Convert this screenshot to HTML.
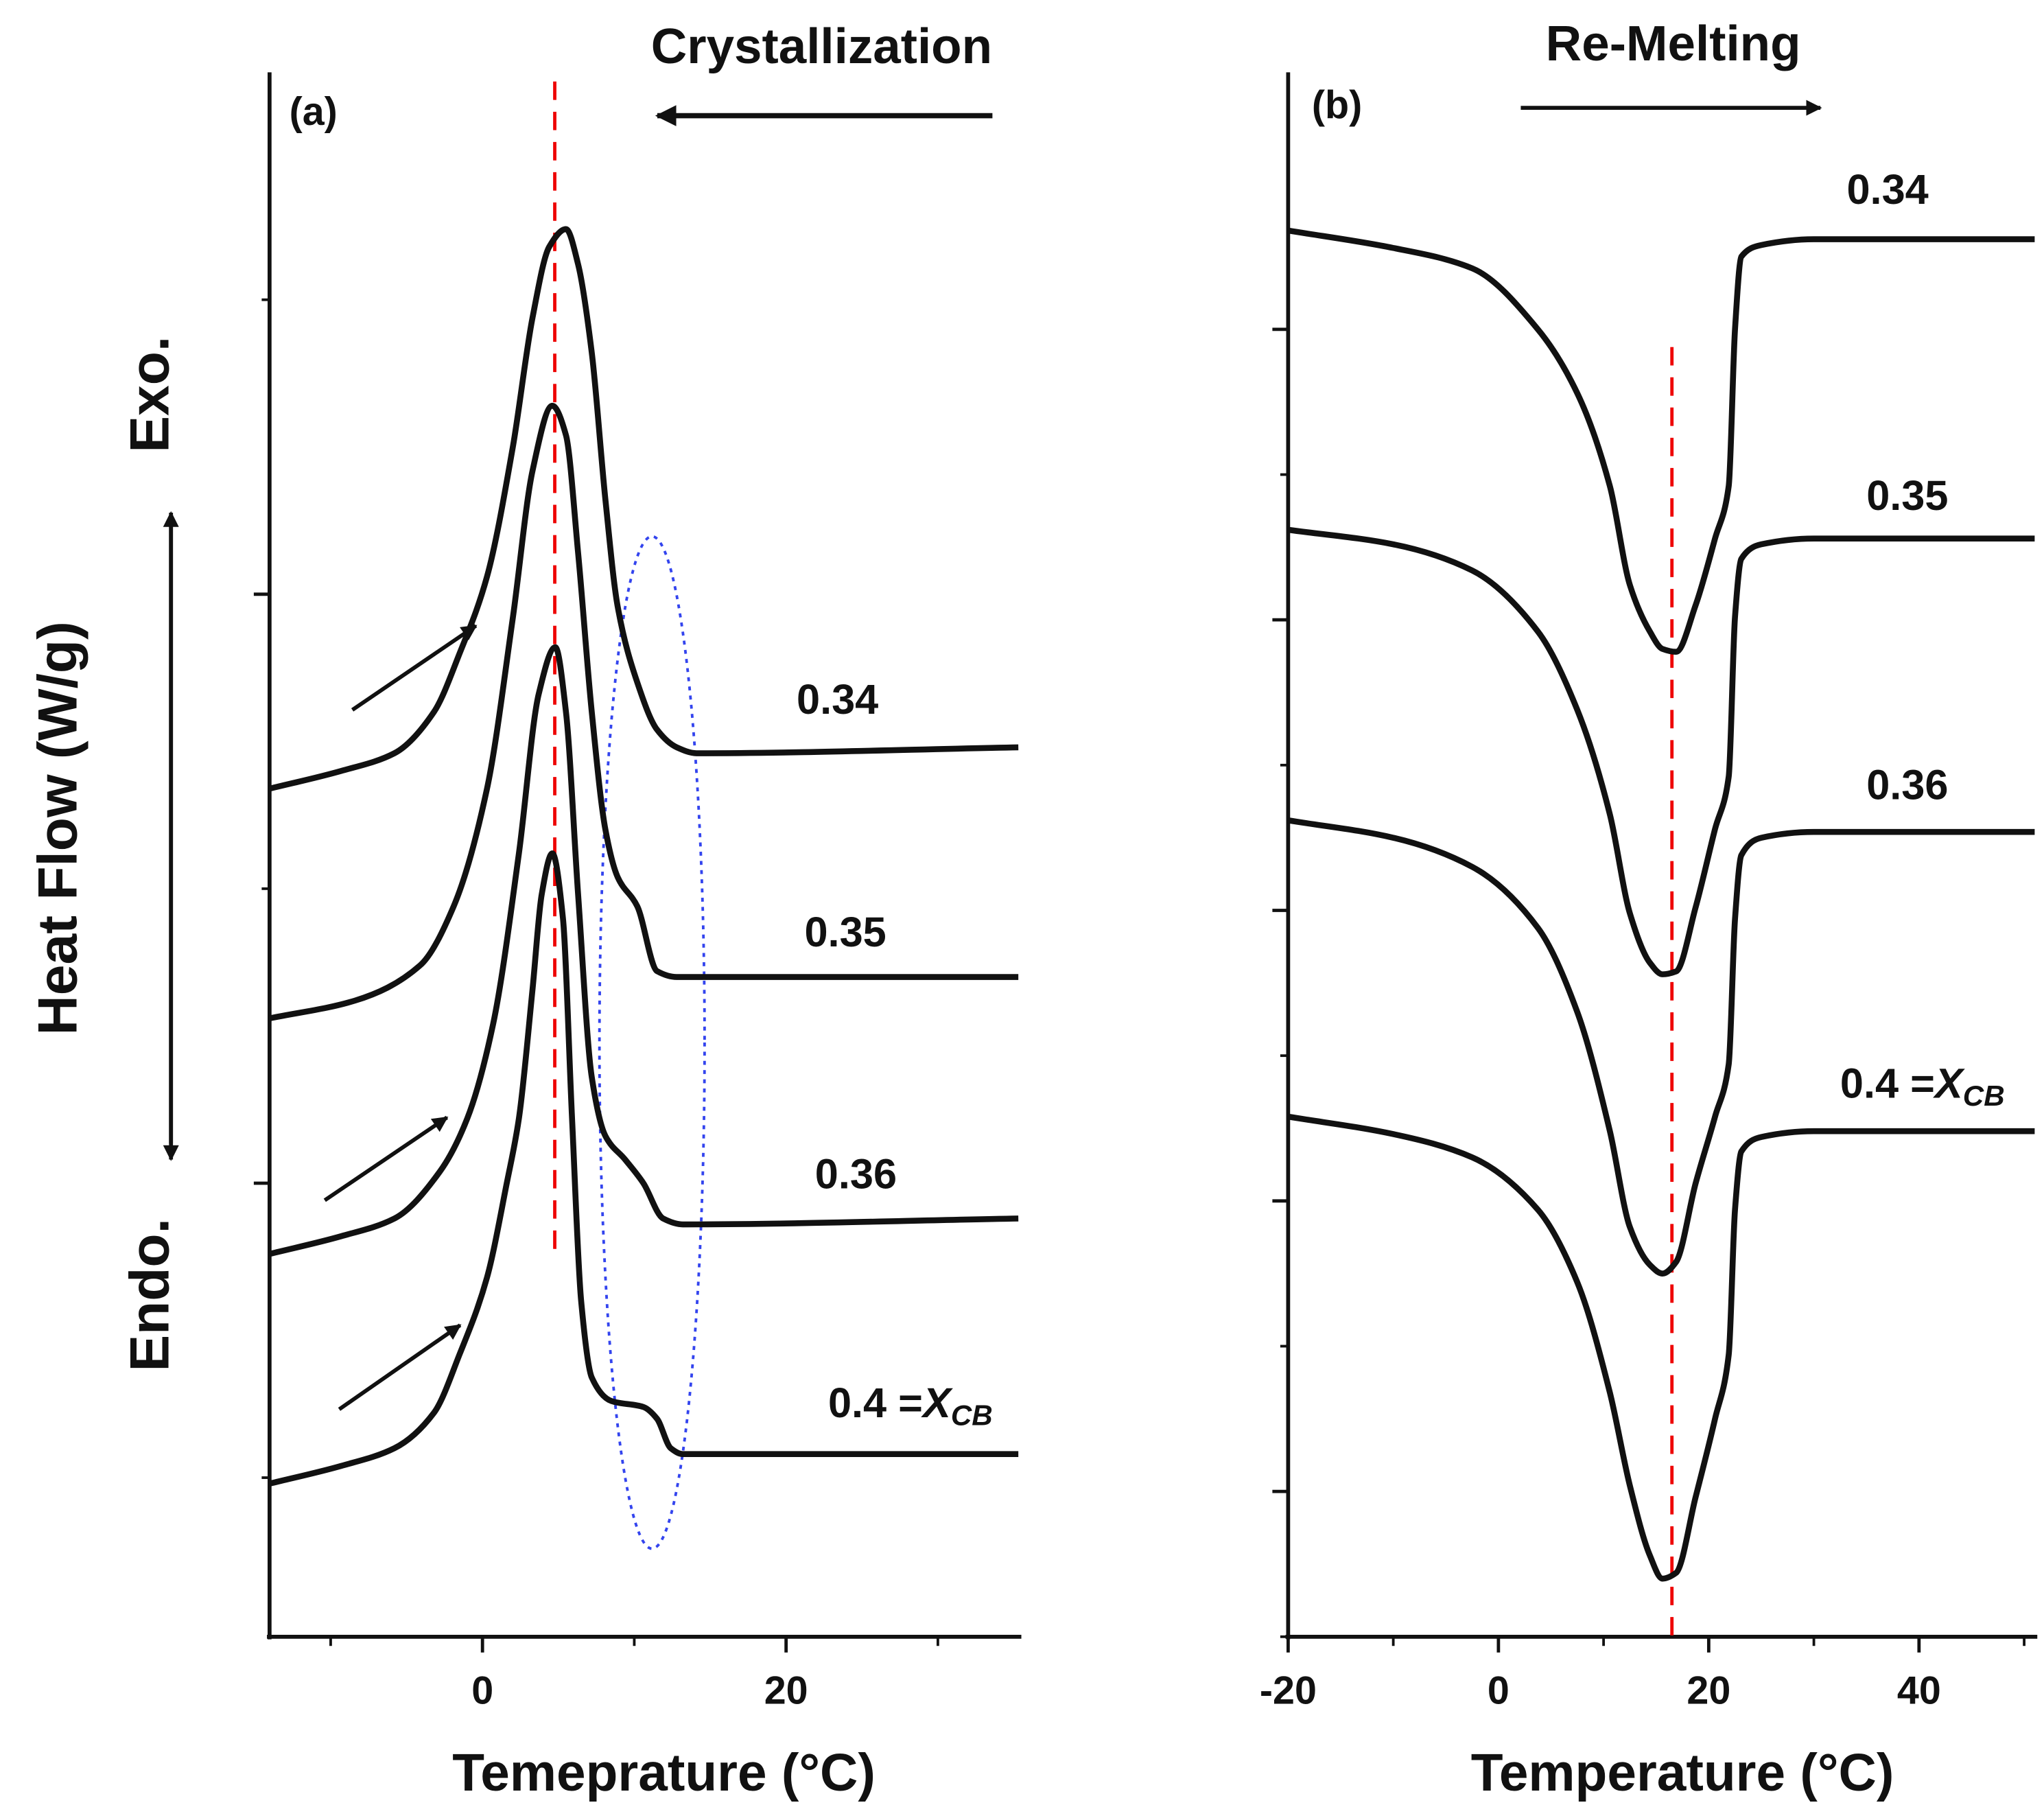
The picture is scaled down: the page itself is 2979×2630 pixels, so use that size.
<!DOCTYPE html>
<html><head><meta charset="utf-8"><style>
html,body{margin:0;padding:0;background:#fff}
svg{display:block}
text{font-family:"Liberation Sans",sans-serif;font-weight:bold;fill:#111}
</style></head><body>
<svg id="fig" width="2979" height="2630" viewBox="0 0 1555 1373" xmlns="http://www.w3.org/2000/svg">
<defs>
<marker id="ah" viewBox="0 0 10 10" refX="9" refY="5" markerWidth="5" markerHeight="4" orient="auto" markerUnits="strokeWidth"><path d="M0,0 L10,5 L0,10 z" fill="#111"/></marker>
</defs>
<g id="pa"></g>
<g id="pb"></g>
<text x="625" y="48" font-size="38" text-anchor="middle">Crystallization</text>
<line x1="755" y1="88" x2="500" y2="88" stroke="#111" stroke-width="4" marker-end="url(#ah)"/>
<text x="1273" y="46" font-size="38" text-anchor="middle">Re-Melting</text>
<line x1="1157" y1="82" x2="1385" y2="82" stroke="#111" stroke-width="3" marker-end="url(#ah)"/>
<text x="220" y="95" font-size="30">(a)</text>
<text x="998" y="90" font-size="30">(b)</text>
<text transform="translate(58,630) rotate(-90)" font-size="42" text-anchor="middle">Heat Flow (W/g)</text>
<text transform="translate(128,300) rotate(-90)" font-size="42" text-anchor="middle">Exo.</text>
<text transform="translate(128,985) rotate(-90)" font-size="42" text-anchor="middle">Endo.</text>
<line x1="130" y1="870" x2="130" y2="390" stroke="#111" stroke-width="3" marker-end="url(#ah)"/>
<line x1="130" y1="400" x2="130" y2="882" stroke="#111" stroke-width="3" marker-end="url(#ah)"/>
<text x="505" y="1362" font-size="40" text-anchor="middle">Temeprature (°C)</text>
<text x="1280" y="1362" font-size="40" text-anchor="middle">Temperature (°C)</text>
</svg>
<script>
// Panel (a) data: temperature (°C) and heat flow (arb. W/g)
const aT34=[-14,-9.3,-5.8,-3.2,-1.5,0.3,2.0,3.3,4.4,5.5,6.3,7.2,8.1,8.9,10.2,11.5,12.8,14.1,35.3];
const aH34=[1.67,1.70,1.73,1.80,1.90,2.03,2.25,2.47,2.59,2.62,2.56,2.41,2.16,1.98,1.85,1.77,1.74,1.73,1.74];
const aT35=[-14,-8.4,-4.1,-1.9,0.3,2.0,3.3,4.6,5.5,6.3,7.2,8.1,8.9,10.2,11.5,12.8,35.3];
const aH35=[1.28,1.31,1.37,1.47,1.67,1.96,2.21,2.32,2.27,2.07,1.80,1.60,1.52,1.47,1.36,1.35,1.35];
const aT36=[-14,-9.3,-5.8,-2.8,-1.0,0.7,2.4,3.7,4.8,5.5,6.3,7.2,8.1,9.4,10.6,11.9,13.2,35.3];
const aH36=[0.88,0.91,0.94,1.02,1.11,1.27,1.56,1.83,1.91,1.80,1.49,1.18,1.08,1.04,1.00,0.94,0.93,0.94];
const aT40=[-14,-9.3,-5.8,-3.2,-1.5,0.3,1.6,2.4,3.3,3.9,4.6,5.3,5.9,6.5,7.2,8.5,10.6,11.5,12.4,13.2,35.3];
const aH40=[0.49,0.52,0.55,0.61,0.71,0.84,1.00,1.11,1.33,1.49,1.56,1.45,1.11,0.80,0.67,0.63,0.62,0.60,0.55,0.54,0.54];
const aXTicks=[0,20];
const aXTickLabels=["0","20"];
const aXMinor=[-10,10,30];
const aYMajor=[1,2];
const aYMinor=[0.5,1.5,2.5];
// Panel (b) data
const bT=[-20,-10,-2.5,3.75,7.5,10.6,12.5,14.4,15.6,16.9,18.75,20.6,21.9,22.5,23.1,25,30,51];
const bH34=[4.84,4.78,4.71,4.50,4.28,3.96,3.62,3.46,3.40,3.39,3.55,3.78,3.96,4.50,4.75,4.79,4.81,4.81];
const bH35=[3.81,3.76,3.67,3.46,3.19,2.83,2.49,2.32,2.28,2.29,2.51,2.78,2.96,3.51,3.71,3.76,3.78,3.78];
const bH36=[2.81,2.75,2.65,2.44,2.15,1.74,1.41,1.28,1.25,1.29,1.56,1.79,1.97,2.47,2.69,2.75,2.77,2.77];
const bH40=[1.79,1.73,1.65,1.47,1.22,0.84,0.52,0.28,0.20,0.22,0.48,0.75,0.97,1.47,1.67,1.72,1.74,1.74];
const bXTicks=[-20,0,20,40];
const bXTickLabels=["-20","0","20","40"];
const bXMinor=[-10,10,30,50];
const bYMajor=[0.5,1.5,2.5,3.5,4.5];
const bYMinor=[0,1,2,3,4];

const NS="http://www.w3.org/2000/svg";
function mk(tag,attrs,parent){const e=document.createElementNS(NS,tag);for(const k in attrs)e.setAttribute(k,attrs[k]);parent.appendChild(e);return e;}
const ax=t=>367+t*11.55, ay=v=>1348-v*448;
const bx=t=>1140+t*8.0, by=v=>1245-v*221;
// monotone cubic (Fritsch-Carlson) path
function smooth(pts){
  const n=pts.length, x=pts.map(p=>p[0]), y=pts.map(p=>p[1]);
  const d=[],m=[];
  for(let i=0;i<n-1;i++)d.push((y[i+1]-y[i])/(x[i+1]-x[i]));
  m[0]=d[0];m[n-1]=d[n-2];
  for(let i=1;i<n-1;i++){
    if(d[i-1]*d[i]<=0)m[i]=0;
    else{const w1=2*(x[i+1]-x[i])+(x[i]-x[i-1]),w2=(x[i+1]-x[i])+2*(x[i]-x[i-1]);
      m[i]=(w1+w2)/(w1/d[i-1]+w2/d[i]);}
  }
  let s=`M${x[0]},${y[0]}`;
  for(let i=0;i<n-1;i++){
    const h=(x[i+1]-x[i])/3;
    s+=` C${x[i]+h},${y[i]+m[i]*h} ${x[i+1]-h},${y[i+1]-m[i+1]*h} ${x[i+1]},${y[i+1]}`;
  }
  return s;
}
const pa=document.getElementById('pa'), pb=document.getElementById('pb');

// Panel a axes
let e=mk('line',{x1:205,y1:55,x2:205,y2:1247,stroke:'#111','stroke-width':3},pa);


e=mk('line',{x1:203,y1:1245,x2:777,y2:1245,stroke:'#111','stroke-width':3},pa);


aXTicks.forEach((t,i)=>{
  const l=mk('line',{x1:ax(t),y1:1245,x2:ax(t),y2:1257,stroke:'#111','stroke-width':2.5},pa);
  
  
  const tx=mk('text',{x:ax(t),y:1296,'font-size':30,'text-anchor':'middle'},pa);tx.textContent=aXTickLabels[i];
  
  
});
aXMinor.forEach(t=>{const l=mk('line',{x1:ax(t),y1:1245,x2:ax(t),y2:1252,stroke:'#111','stroke-width':2},pa);
  
  });
aYMajor.forEach(v=>{const l=mk('line',{x1:193,y1:ay(v),x2:205,y2:ay(v),stroke:'#111','stroke-width':2.5},pa);
  
  });
aYMinor.forEach(v=>{const l=mk('line',{x1:199,y1:ay(v),x2:205,y2:ay(v),stroke:'#111','stroke-width':2},pa);
  
  });
e=mk('ellipse',{cx:496,cy:793,rx:40,ry:385,fill:'none',stroke:'#3344ee','stroke-width':2,'stroke-dasharray':'3,4'},pa);


e=mk('line',{x1:422,y1:62,x2:422,y2:955,stroke:'#e00','stroke-width':2.5,'stroke-dasharray':'14,9'},pa);


[[aT34,aH34,'curve-a-034'],[aT35,aH35,'curve-a-035'],[aT36,aH36,'curve-a-036'],[aT40,aH40,'curve-a-040']].forEach(([T,H,n])=>{
  const p=mk('path',{d:smooth(T.map((t,i)=>[ax(t),ay(H[i])])),fill:'none',stroke:'#111','stroke-width':4.5,'stroke-linejoin':'round'},pa);
  
  
});
[[268,540,362,476],[247,913,340,850],[258,1072,350,1008]].forEach(([x1,y1,x2,y2])=>{
  const l=mk('line',{x1,y1,x2,y2,stroke:'#111','stroke-width':3,'marker-end':'url(#ah)'},pa);
  
  
});
function lab(parent,x,y,txt,sub,name){
  const t=mk('text',{x,y,'font-size':32},parent);
  
  
  t.textContent=txt;
  if(sub){const s=mk('tspan',{'font-style':'italic'},t);s.textContent='X';
    const s2=mk('tspan',{'font-style':'italic','font-size':22,dy:6},t);s2.textContent='CB';}
}
lab(pa,606,543,'0.34',false,'label-a-034');
lab(pa,612,720,'0.35',false,'label-a-035');
lab(pa,620,904,'0.36',false,'label-a-036');
lab(pa,630,1078,'0.4 =',true,'label-a-040');

// Panel b axes
e=mk('line',{x1:980,y1:55,x2:980,y2:1247,stroke:'#111','stroke-width':3},pb);


e=mk('line',{x1:978,y1:1245,x2:1550,y2:1245,stroke:'#111','stroke-width':3},pb);


bXTicks.forEach((t,i)=>{
  const l=mk('line',{x1:bx(t),y1:1245,x2:bx(t),y2:1257,stroke:'#111','stroke-width':2.5},pb);
  
  
  const tx=mk('text',{x:bx(t),y:1296,'font-size':30,'text-anchor':'middle'},pb);tx.textContent=bXTickLabels[i];
  
  
});
bXMinor.forEach(t=>{const l=mk('line',{x1:bx(t),y1:1245,x2:bx(t),y2:1252,stroke:'#111','stroke-width':2},pb);
  
  });
bYMajor.forEach(v=>{const l=mk('line',{x1:968,y1:by(v),x2:980,y2:by(v),stroke:'#111','stroke-width':2.5},pb);
  
  });
bYMinor.forEach(v=>{const l=mk('line',{x1:974,y1:by(v),x2:980,y2:by(v),stroke:'#111','stroke-width':2},pb);
  
  });
e=mk('line',{x1:1272,y1:264,x2:1272,y2:1245,stroke:'#e00','stroke-width':2.5,'stroke-dasharray':'14,9'},pb);


[[bH34,'curve-b-034'],[bH35,'curve-b-035'],[bH36,'curve-b-036'],[bH40,'curve-b-040']].forEach(([H,n])=>{
  const p=mk('path',{d:smooth(bT.map((t,i)=>[bx(t),by(H[i])])),fill:'none',stroke:'#111','stroke-width':4.5,'stroke-linejoin':'round'},pb);
  
  
});
lab(pb,1405,155,'0.34',false,'label-b-034');
lab(pb,1420,388,'0.35',false,'label-b-035');
lab(pb,1420,608,'0.36',false,'label-b-036');
lab(pb,1400,835,'0.4 =',true,'label-b-040');
</script>
</body></html>
